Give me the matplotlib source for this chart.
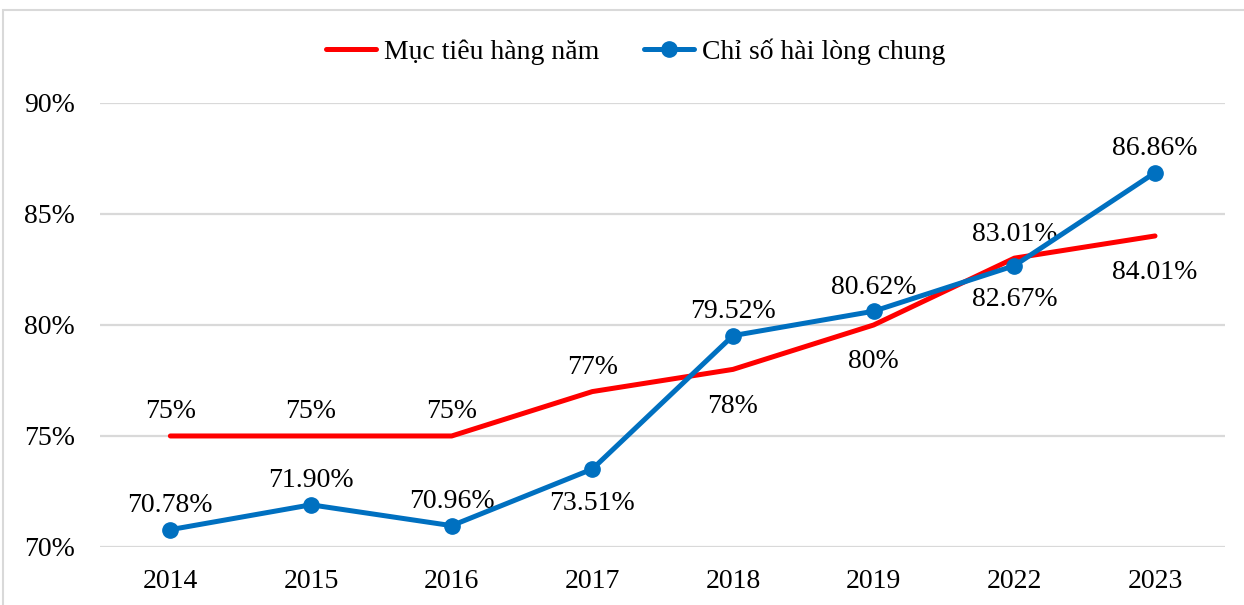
import matplotlib.pyplot as plt
from matplotlib.patches import Rectangle

years = ["2014", "2015", "2016", "2017", "2018", "2019", "2022", "2023"]
target = [75, 75, 75, 77, 78, 80, 83.01, 84.01]
target_labels = ["75%", "75%", "75%", "77%", "78%", "80%", "83.01%", "84.01%"]
target_above = [True, True, True, True, False, False, True, False]
satisfaction = [70.78, 71.90, 70.96, 73.51, 79.52, 80.62, 82.67, 86.86]
sat_labels = ["70.78%", "71.90%", "70.96%", "73.51%", "79.52%", "80.62%", "82.67%", "86.86%"]
sat_above = [True, True, True, False, True, True, False, True]

plt.rcParams['font.family'] = ['Liberation Serif', 'DejaVu Serif']

fig = plt.figure(figsize=(12.44, 6.05), dpi=100)
ax = fig.add_axes([0.0804, 0.0959, 0.9046, 0.7339])

x = list(range(len(years)))
red = "#FF0000"
blue = "#0070C0"
ax.plot(x, target, color=red, lw=3.6, label="Mục tiêu hàng năm", solid_capstyle="round", zorder=3)
ax.plot(x, satisfaction, color=blue, lw=3.6, marker="o", ms=11, label="Chỉ số hài lòng chung",
        solid_capstyle="round", zorder=4)

for i in x:
    dy = 24 if target_above[i] else -37
    ax.annotate(target_labels[i], (i, target[i]), xytext=(0, dy), textcoords="offset pixels",
                ha="center", va="center", fontsize=20)
    dy = 24 if sat_above[i] else -34
    ax.annotate(sat_labels[i], (i, satisfaction[i]), xytext=(0, dy), textcoords="offset pixels",
                ha="center", va="center", fontsize=20)

ax.set_xlim(-0.5, len(years) - 0.5)
ax.set_ylim(70, 90)
ax.set_yticks([70, 75, 80, 85, 90])
ax.set_yticklabels(["70%", "75%", "80%", "85%", "90%"])
ax.set_xticks(x)
ax.set_xticklabels(years)
ax.tick_params(length=0, labelsize=20)
ax.tick_params(axis="x", pad=16)
ax.tick_params(axis="y", pad=18)
ax.grid(axis="y", color="#D9D9D9", lw=1.6)
ax.set_axisbelow(True)
for s in ax.spines.values():
    s.set_visible(False)

fig.legend(loc="center", bbox_to_anchor=(0.511, 0.915), ncol=2, frameon=False, fontsize=20,
           handlelength=1.8, columnspacing=1.6, handletextpad=0.3)

fig.patches.append(Rectangle((3 / 1244, -0.01), 1.01, 1 - 10 / 605 + 0.01, transform=fig.transFigure,
                             fill=False, edgecolor="#D9D9D9", lw=1.5))

fig.savefig("out.png", dpi=100)
